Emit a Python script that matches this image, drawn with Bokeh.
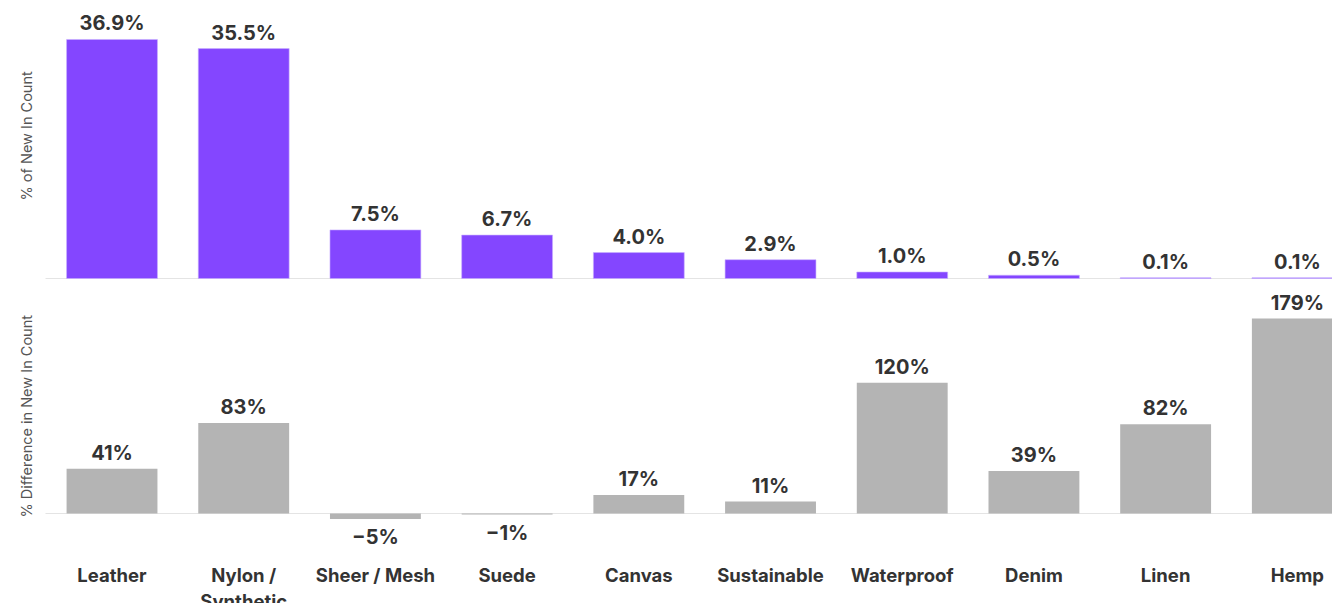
from bokeh.plotting import figure
from bokeh.layouts import column
from bokeh.models import ColumnDataSource, Range1d, Span, Title
from bokeh.core.properties import value
from bokeh.embed import file_html
from bokeh.resources import INLINE

categories = ["Leather", "Nylon /\nSynthetic", "Sheer / Mesh", "Suede", "Canvas",
              "Sustainable", "Waterproof", "Denim", "Linen", "Hemp"]
share_pct = [36.9, 35.5, 7.5, 6.7, 4.0, 2.9, 1.0, 0.5, 0.1, 0.1]
diff_pct = [41, 83, -5, -1, 17, 11, 120, 39, 82, 179]

FONT = "Inter"
PURPLE = "#8446FF"
GREY = "#B4B4B4"
TEXT = "#333333"

idx = list(range(len(categories)))
W = 1332
XR = (-0.505, 9.267)


def base_fig(height, yr):
    p = figure(width=W, height=height, x_range=Range1d(*XR), y_range=Range1d(*yr),
               output_backend="svg", toolbar_location=None,
               min_border_left=45, min_border_right=0, min_border_top=0, min_border_bottom=0)
    p.title.visible = False
    p.xaxis.visible = False
    p.yaxis.visible = False
    p.xgrid.visible = False
    p.ygrid.visible = False
    p.outline_line_color = None
    p.background_fill_color = "white"
    p.border_fill_color = "white"
    base = Span(location=0, dimension="width", line_color="#c8c8c8", line_dash="1 1",
                line_width=1, level="underlay")
    p.add_layout(base)
    return p


# ---- top panel ----
top_src = ColumnDataSource(dict(x=idx, v=share_pct,
                                lab=[f"{v:.1f}%" for v in share_pct]))
top = base_fig(282, (-0.62, 42.92))
top.vbar(x="x", top="v", bottom=0, width=0.69, source=top_src,
         fill_color=PURPLE, line_color="#C9B0FF", line_width=0.6)
top.text(x="x", y="v", text="lab", source=top_src, text_align="center",
         text_baseline="alphabetic", y_offset=-16, text_font=value(FONT),
         text_font_style="bold", text_font_size="20px", text_color=TEXT)
top.add_layout(Title(text="% of New In Count", align="left", offset=82,
                     text_font=FONT, text_font_size="14.5px", text_font_style="normal",
                     text_color="#555555", standoff=22), "left")

# ---- bottom panel ----
diff_labels = [(f"{v}%" if v >= 0 else f"\u2212{abs(v)}%") for v in diff_pct]
diff_off = [-16 if v >= 0 else 18 for v in diff_pct]
bot_src = ColumnDataSource(dict(x=idx, v=diff_pct, lab=diff_labels, off=diff_off,
                                cat=categories, zero=[0] * len(idx)))
bot = base_fig(321, (-82.61, 212.05))
bot.vbar(x="x", top="v", bottom=0, width=0.69, source=bot_src,
         fill_color=GREY, line_color=None)
bot.text(x="x", y="v", text="lab", source=bot_src, text_align="center",
         text_baseline="alphabetic", y_offset="off", text_font=value(FONT),
         text_font_style="bold", text_font_size="20px", text_color=TEXT)
bot.text(x="x", y="zero", text="cat", source=bot_src, text_align="center",
         text_baseline="top", y_offset=50, text_font=value(FONT),
         text_font_style="bold", text_font_size="18.5px", text_color=TEXT,
         text_line_height=1.2)
bot.add_layout(Title(text="% Difference in New In Count", align="left", offset=86,
                     text_font=FONT, text_font_size="14.5px", text_font_style="normal",
                     text_color="#555555", standoff=22), "left")

layout = column(top, bot, spacing=0)
open("out.html", "w").write(file_html(layout, INLINE))
